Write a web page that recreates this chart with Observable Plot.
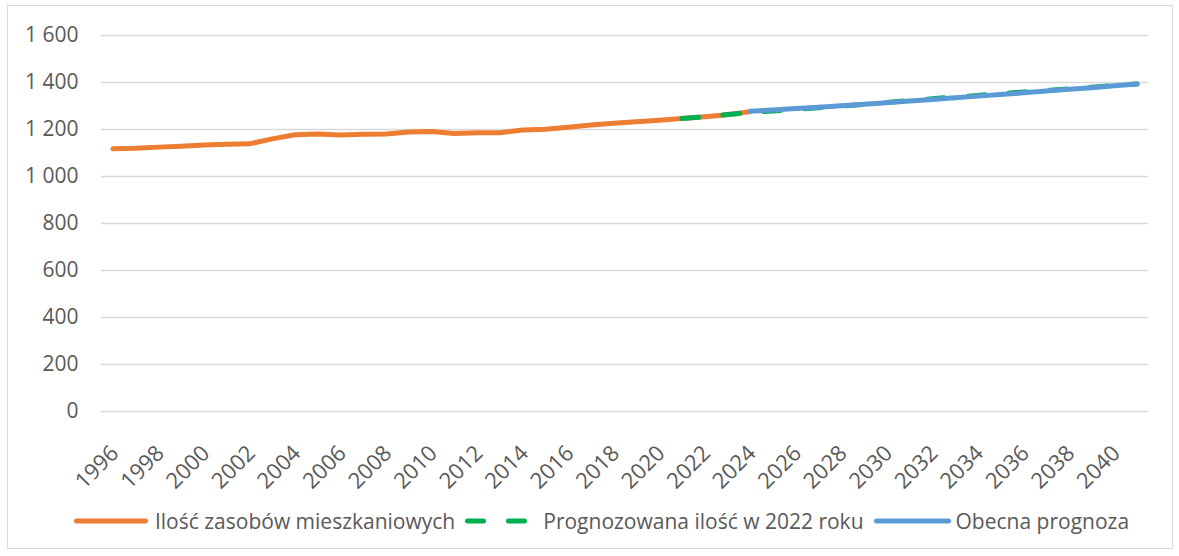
<!DOCTYPE html>
<html>
<head>
<meta charset="utf-8">
<script src="https://cdn.jsdelivr.net/npm/d3@7"></script>
<script src="https://cdn.jsdelivr.net/npm/@observablehq/plot@0.6"></script>
<style>
  html, body { margin: 0; padding: 0; background: #fff; }
  body { width: 1179px; height: 556px; position: relative; overflow: hidden; font-family: "Open Sans", sans-serif; }
  #frame { position: absolute; left: 7px; top: 5px; width: 1164px; height: 542px; border: 1px solid #D9D9D9; }
  #chart { position: absolute; left: 0; top: 0; }
  #legend { position: absolute; left: 12px; top: 507px; width: 1179px; height: 28px; display: flex; justify-content: center; align-items: center; color: #595959; font-size: 21px; white-space: nowrap; }
  .item { display: flex; align-items: center; }
  .item svg { display: block; }
</style>
</head>
<body>
<div id="frame"></div>
<div id="chart"></div>
<div id="legend"></div>
<script>
// Series 1: Ilość zasobów mieszkaniowych (historical)
const histYears = [1996,1997,1998,1999,2000,2001,2002,2003,2004,2005,2006,2007,2008,2009,2010,2011,2012,2013,2014,2015,2016,2017,2018,2019,2020,2021,2022,2023,2024];
const histValues = [1118,1120,1125,1129,1134,1137,1139,1160,1178,1181,1177,1180,1181,1189,1191,1183,1186,1186,1198,1201,1210,1219,1227,1233,1239,1247,1254,1263,1276];

// Series 2: Prognozowana ilość w 2022 roku
const forecast2022Years = [2021,2022,2023,2024,2025,2026,2027,2028,2029,2030,2031,2032,2033,2034,2035,2036,2037,2038,2039,2040,2041];
const forecast2022Values = [1247,1254,1264,1272,1279,1286,1293,1300,1307,1315,1323,1331,1338,1345,1353,1360,1366,1373,1380,1387,1394];

// Series 3: Obecna prognoza
const currentYears = [2024,2025,2026,2027,2028,2029,2030,2031,2032,2033,2034,2035,2036,2037,2038,2039,2040,2041];
const currentValues = [1278,1283,1289,1295,1301,1307,1314,1321,1328,1335,1342,1349,1356,1364,1371,1378,1386,1394];

const xTickLabels = [1996,1998,2000,2002,2004,2006,2008,2010,2012,2014,2016,2018,2020,2022,2024,2026,2028,2030,2032,2034,2036,2038,2040];
const yTickValues = [0,200,400,600,800,1000,1200,1400,1600];

const seriesNames = ["Ilość zasobów mieszkaniowych", "Prognozowana ilość w 2022 roku", "Obecna prognoza"];
const seriesColors = ["#ED7D31", "#00B050", "#5B9BD5"];

const toRows = (years, values) => years.map((year, i) => ({year, value: values[i]}));
const hist = toRows(histYears, histValues);
const fc2022 = toRows(forecast2022Years, forecast2022Values);
const current = toRows(currentYears, currentValues);

const fmt = d => d3.format(",")(d).replace(/,/g, " ");

const chart = Plot.plot({
  width: 1179,
  height: 490,
  marginLeft: 101,
  marginRight: 31,
  marginTop: 35,
  marginBottom: 79,
  style: { fontFamily: "Open Sans, sans-serif", fontSize: "21px", color: "#595959", background: "transparent", overflow: "visible" },
  x: { domain: [1995.5, 2041.5], label: null },
  y: { domain: [0, 1600], label: null },
  marks: [
    Plot.ruleY(yTickValues, { stroke: "#D9D9D9", strokeWidth: 1.5 }),
    Plot.axisY({ ticks: yTickValues, tickFormat: fmt, tickSize: 0, tickPadding: 23, label: null }),
    Plot.axisX({ ticks: xTickLabels, tickFormat: d => String(d), tickRotate: -45, tickSize: 0, tickPadding: 8, dy: 30, dx: 2, fontSize: 22, label: null }),
    Plot.lineY(hist, { x: "year", y: "value", stroke: seriesColors[0], strokeWidth: 5, strokeLinecap: "round", strokeLinejoin: "round" }),
    Plot.lineY(fc2022, { x: "year", y: "value", stroke: seriesColors[1], strokeWidth: 5, strokeLinecap: "round", strokeLinejoin: "round", strokeDasharray: "17 24" }),
    Plot.lineY(current, { x: "year", y: "value", stroke: seriesColors[2], strokeWidth: 5, strokeLinecap: "round", strokeLinejoin: "round" })
  ]
});
document.getElementById("chart").appendChild(chart);

const legend = document.getElementById("legend");
const swatches = [
  `<svg width="74" height="10"><line x1="2.5" y1="5" x2="71.5" y2="5" stroke="${seriesColors[0]}" stroke-width="5" stroke-linecap="round"/></svg>`,
  `<svg width="63" height="10"><line x1="2.5" y1="5" x2="60.5" y2="5" stroke="${seriesColors[1]}" stroke-width="5" stroke-linecap="round" stroke-dasharray="16 25"/></svg>`,
  `<svg width="77" height="10"><line x1="2.5" y1="5" x2="74.5" y2="5" stroke="${seriesColors[2]}" stroke-width="5" stroke-linecap="round"/></svg>`
];
const textGap = [7, 15, 5];
const itemGap = [10, 10, 0];
seriesNames.forEach((name, i) => {
  const item = document.createElement("div");
  item.className = "item";
  item.style.marginRight = itemGap[i] + "px";
  item.innerHTML = `${swatches[i]}<span style="margin-left:${textGap[i]}px">${name}</span>`;
  legend.appendChild(item);
});
</script>
</body>
</html>
